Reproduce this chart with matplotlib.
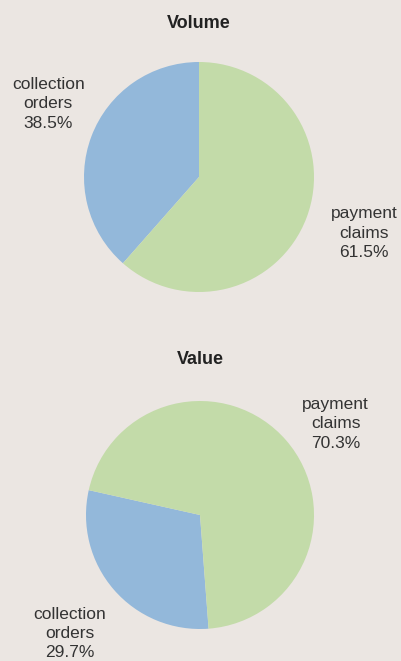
import matplotlib
matplotlib.use("Agg")
import matplotlib.pyplot as plt

# data
labels = ["collection\norders", "payment\nclaims"]
volume_pct = [38.5, 61.5]
value_pct = [29.7, 70.3]

bg = "#ebe6e2"
colors = ["#93b8da", "#c3dba9"]
txt = "#333333"

W, H = 401, 661
fig = plt.figure(figsize=(W / 100, H / 100), dpi=100, facecolor=bg)


def pie_axes(cx, cy, r):
    # pixel centre/radius -> figure fraction axes
    ax = fig.add_axes([(cx - r) / W, (H - cy - r) / H, 2 * r / W, 2 * r / H])
    return ax


def finish(ax):
    ax.set_xlim(-1, 1)
    ax.set_ylim(-1, 1)
    ax.set_aspect("equal")
    ax.axis("off")


def label(ax, x, y, name, pct):
    ax.text(x, y, "{}\n{:.1f}%".format(name, pct), ha="center", va="center",
            fontsize=12.5, color=txt, linespacing=1.35, clip_on=False,
            family=["Liberation Sans", "DejaVu Sans"])


def title(ax, y, s):
    ax.text(0, y, s, ha="center", va="center", fontsize=13,
            fontweight="bold", color="#222222", clip_on=False,
            family=["Liberation Sans", "DejaVu Sans"])


# Volume
ax1 = pie_axes(199, 177, 115)
ax1.pie(volume_pct, colors=colors, startangle=90, counterclock=True, radius=1,
        wedgeprops=dict(linewidth=0))
finish(ax1)
title(ax1, 1.335, "Volume")
label(ax1, -1.31, 0.635, labels[0], volume_pct[0])
label(ax1, 1.435, -0.487, labels[1], volume_pct[1])

# Value
ax2 = pie_axes(200, 515, 114)
ax2.pie(value_pct, colors=colors, startangle=167.4, counterclock=True, radius=1,
        wedgeprops=dict(linewidth=0))
finish(ax2)
title(ax2, 1.36, "Value")
label(ax2, 1.19, 0.80, labels[1], value_pct[1])
label(ax2, -1.14, -1.04, labels[0], value_pct[0])

fig.savefig("out.png", dpi=100, facecolor=bg)
